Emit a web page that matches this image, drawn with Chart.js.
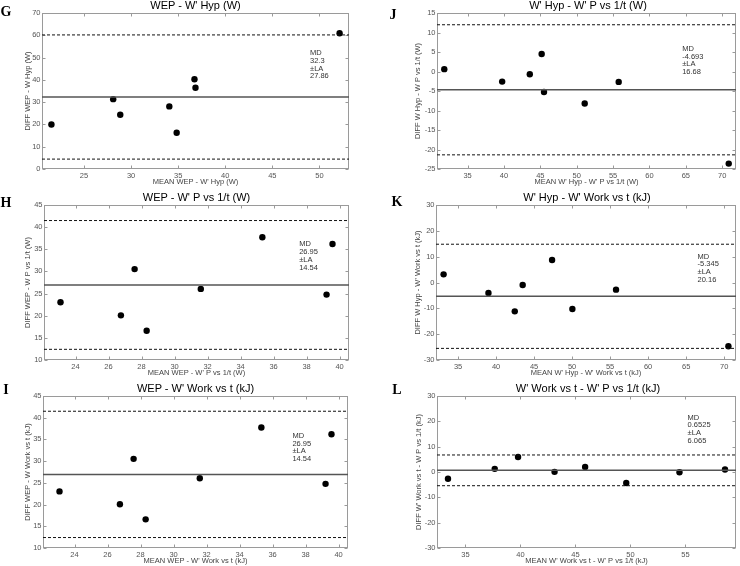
<!DOCTYPE html>
<html>
<head>
<meta charset="utf-8">
<script src="https://cdn.jsdelivr.net/npm/chart.js@4.4.1/dist/chart.umd.min.js"></script>
<style>
  html, body { margin: 0; padding: 0; background: #fff; }
  #page { position: relative; width: 740px; height: 566px; overflow: hidden; }
  canvas { position: absolute; }
  .ttl { position: absolute; font: 11px 'Liberation Sans', Arial, sans-serif; line-height: 13px;
         white-space: nowrap; transform: translateX(-50%); color: #000; }
  .lbl { position: absolute; font: bold 14px 'Liberation Serif', 'Times New Roman', serif; line-height: 16px;
         transform: translateX(-50%); color: #000; }
</style>
</head>
<body>
<div id="page"></div>
<script>
// Bland-Altman data: mean of the two methods vs their difference
const gMean = [21.54, 28.1, 28.85, 34.06, 34.84, 36.73, 36.84, 52.14];
const gDiff = [20.0, 31.35, 24.35, 28.1, 16.25, 40.3, 36.45, 60.9];
const gMD = 32.3, gLA = 27.86;
const gXTicks = [25, 30, 35, 40, 45, 50];
const gYTicks = [0, 10, 20, 30, 40, 50, 60, 70];

const jMean = [31.79, 39.75, 43.55, 45.18, 45.5, 51.1, 55.77, 70.9];
const jDiff = [0.6, -2.59, -0.69, 4.48, -5.26, -8.19, -2.67, -23.62];
const jMD = -4.693, jLA = 16.68;
const jXTicks = [35, 40, 45, 50, 55, 60, 65, 70];
const jYTicks = [-25, -20, -15, -10, -5, 0, 5, 10, 15];

const hMean = [23.09, 26.75, 27.58, 28.31, 31.59, 35.32, 39.21, 39.57];
const hDiff = [23.03, 20.08, 30.53, 16.6, 26.06, 37.73, 24.77, 36.2];
const hMD = 26.95, hLA = 14.54;
const hXTicks = [24, 26, 28, 30, 32, 34, 36, 38, 40];
const hYTicks = [10, 15, 20, 25, 30, 35, 40, 45];

const kMean = [33.1, 39.0, 42.46, 43.5, 47.37, 50.04, 55.78, 70.56];
const kDiff = [3.16, -4.06, -11.16, -0.97, 8.71, -10.26, -2.77, -24.7];
const kMD = -5.345, kLA = 20.16;
const kXTicks = [35, 40, 45, 50, 55, 60, 65, 70];
const kYTicks = [-30, -20, -10, 0, 10, 20, 30];

const iMean = [23.09, 26.75, 27.58, 28.31, 31.59, 35.32, 39.21, 39.57];
const iDiff = [23.03, 20.08, 30.53, 16.6, 26.06, 37.73, 24.77, 36.2];
const iMD = 26.95, iLA = 14.54;
const iXTicks = [24, 26, 28, 30, 32, 34, 36, 38, 40];
const iYTicks = [10, 15, 20, 25, 30, 35, 40, 45];

const lMean = [33.41, 37.66, 39.78, 43.1, 45.88, 49.62, 54.46, 58.6];
const lDiff = [-2.67, 1.24, 5.92, 0.06, 2.02, -4.36, -0.07, 0.98];
const lMD = 0.6525, lLA = 6.065;
const lXTicks = [35, 40, 45, 50, 55];
const lYTicks = [-30, -20, -10, 0, 10, 20, 30];

const FONT = "'Liberation Sans', Arial, sans-serif";
const SMALL = 7.5;

// panel layout: canvas box (x0,y0,w,h), plot rect (l,r,t,b), y-title centre x, x-title centre y,
// title centre y, letter position, note anchor in data units
const panels = [
  { id: 'G', title: "WEP - W' Hyp (W)", xLabel: "MEAN WEP - W' Hyp (W)", yLabel: 'DIFF WEP - W Hyp (W)',
    mean: gMean, diff: gDiff, md: gMD, la: gLA, xTicks: gXTicks, yTicks: gYTicks,
    box: { x0: 0, y0: 0, w: 370, h: 190, l: 42, r: 349, t: 13, b: 169, yt: 28, xt: 181.5 },
    ty: 5.5, letter: [6, 4], note: [49.0, 52] },
  { id: 'J', title: "W' Hyp - W' P vs 1/t (W)", xLabel: "MEAN W' Hyp - W' P vs 1/t (W)", yLabel: 'DIFF W Hyp - W P vs 1/t (W)',
    mean: jMean, diff: jDiff, md: jMD, la: jLA, xTicks: jXTicks, yTicks: jYTicks,
    box: { x0: 370, y0: 0, w: 370, h: 190, l: 437, r: 739, t: 13, b: 169, yt: 418, xt: 181.5 },
    ty: 5.5, letter: [393, 7], note: [64.5, 5.8] },
  { id: 'H', title: "WEP - W' P vs 1/t (W)", xLabel: "MEAN WEP - W' P vs 1/t (W)", yLabel: 'DIFF WEP - W P vs 1/t (W)',
    mean: hMean, diff: hDiff, md: hMD, la: hLA, xTicks: hXTicks, yTicks: hYTicks,
    box: { x0: 0, y0: 190, w: 370, h: 188, l: 44, r: 349, t: 205, b: 360, yt: 28, xt: 373 },
    ty: 197.5, letter: [6, 195], note: [37.55, 36.1] },
  { id: 'K', title: "W' Hyp - W' Work vs t (kJ)", xLabel: "MEAN W' Hyp - W' Work vs t (kJ)", yLabel: "DIFF W Hyp - W' Work vs t (kJ)",
    mean: kMean, diff: kDiff, md: kMD, la: kLA, xTicks: kXTicks, yTicks: kYTicks,
    box: { x0: 370, y0: 190, w: 370, h: 188, l: 436, r: 738, t: 205, b: 360, yt: 418, xt: 373 },
    ty: 197.5, letter: [397, 194], note: [66.5, 10] },
  { id: 'I', title: "WEP - W' Work vs t (kJ)", xLabel: "MEAN WEP - W' Work vs t (kJ)", yLabel: 'DIFF WEP - W Work vs t (kJ)',
    mean: iMean, diff: iDiff, md: iMD, la: iLA, xTicks: iXTicks, yTicks: iYTicks,
    box: { x0: 0, y0: 378, w: 370, h: 188, l: 43, r: 348, t: 396, b: 548, yt: 28, xt: 561 },
    ty: 388, letter: [6, 382], note: [37.2, 35.8] },
  { id: 'L', title: "W' Work vs t - W' P vs 1/t (kJ)", xLabel: "MEAN W' Work vs t - W' P vs 1/t (kJ)", yLabel: "DIFF W' Work vs t - W P vs 1/t (kJ)",
    mean: lMean, diff: lDiff, md: lMD, la: lLA, xTicks: lXTicks, yTicks: lYTicks,
    box: { x0: 370, y0: 378, w: 370, h: 188, l: 437, r: 739, t: 396, b: 548, yt: 419, xt: 561 },
    ty: 388, letter: [397, 382], note: [55.2, 21.5] }
];

// frame with inward ticks on all four sides (MATLAB look) + MD / LA note
const framePlugin = {
  id: 'frame',
  beforeDatasetsDraw(chart) {
    const { ctx, chartArea: a, scales: { x, y } } = chart;
    ctx.save();
    ctx.strokeStyle = '#9a9a9a';
    ctx.lineWidth = 1;
    const L = Math.round(a.left) + 0.5, R = Math.round(a.right) - 0.5;
    const T = Math.round(a.top) + 0.5, B = Math.round(a.bottom) - 0.5;
    ctx.strokeRect(L, T, R - L, B - T);
    ctx.beginPath();
    x.ticks.forEach((t) => {
      const px = Math.round(x.getPixelForValue(t.value)) + 0.5;
      ctx.moveTo(px, B); ctx.lineTo(px, B - 3);
      ctx.moveTo(px, T); ctx.lineTo(px, T + 3);
    });
    y.ticks.forEach((t) => {
      const py = Math.round(y.getPixelForValue(t.value)) + 0.5;
      ctx.moveTo(L, py); ctx.lineTo(L + 3, py);
      ctx.moveTo(R, py); ctx.lineTo(R - 3, py);
    });
    ctx.stroke();
    ctx.restore();
  },
  afterDatasetsDraw(chart, args, opts) {
    if (!opts.note) return;
    const { ctx, scales: { x, y } } = chart;
    const px = x.getPixelForValue(opts.note[0]);
    const py = y.getPixelForValue(opts.note[1]);
    ctx.save();
    ctx.font = SMALL + 'px ' + FONT;
    ctx.fillStyle = '#333';
    ctx.textBaseline = 'middle';
    opts.lines.forEach((s, i) => ctx.fillText(s, px, py + i * 7.7));
    ctx.restore();
  }
};

const page = document.getElementById('page');

function addText(cls, text, left, top) {
  const d = document.createElement('div');
  d.className = cls;
  d.textContent = text;
  d.style.left = left + 'px';
  d.style.top = top + 'px';
  page.appendChild(d);
}

panels.forEach((p) => {
  const bx = p.box;
  const canvas = document.createElement('canvas');
  canvas.width = bx.w;
  canvas.height = bx.h;
  canvas.style.left = bx.x0 + 'px';
  canvas.style.top = bx.y0 + 'px';
  page.appendChild(canvas);

  addText('ttl', p.title, (bx.l + bx.r) / 2, p.ty - 6.5);
  addText('lbl', p.id, p.letter[0], p.letter[1]);

  const half = SMALL * 1.2 / 2;
  const padLeft = bx.yt - bx.x0 - half;
  const yWidth = bx.l - bx.x0 - padLeft;
  const padTop = bx.t - bx.y0;
  const padRight = bx.x0 + bx.w - bx.r;
  const xBottom = bx.xt + half;
  const padBottom = bx.y0 + bx.h - xBottom;
  const xHeight = xBottom - bx.b;

  const xMin = Math.min(...p.mean) - 1;
  const xMax = Math.max(...p.mean) + 1;
  const points = p.mean.map((m, i) => ({ x: m, y: p.diff[i] }));
  const hline = (v) => [{ x: xMin, y: v }, { x: xMax, y: v }];

  new Chart(canvas, {
    type: 'scatter',
    data: {
      datasets: [
        { data: hline(p.md), showLine: true, borderColor: '#555', borderWidth: 1.5, pointRadius: 0 },
        { data: hline(p.md + p.la), showLine: true, borderColor: '#111', borderWidth: 1, borderDash: [3, 2], pointRadius: 0 },
        { data: hline(p.md - p.la), showLine: true, borderColor: '#111', borderWidth: 1, borderDash: [3, 2], pointRadius: 0 },
        { data: points, backgroundColor: '#000', borderWidth: 0, pointRadius: 3.2 }
      ]
    },
    options: {
      responsive: false,
      animation: false,
      layout: { padding: { left: padLeft, top: padTop, right: padRight, bottom: padBottom } },
      plugins: {
        legend: { display: false },
        tooltip: { enabled: false },
        frame: { note: p.note, lines: ['MD', String(p.md), '\u00b1LA', String(p.la)] }
      },
      scales: {
        x: {
          type: 'linear', min: xMin, max: xMax,
          grid: { display: false, drawTicks: false }, border: { display: false },
          afterBuildTicks: (s) => { s.ticks = p.xTicks.map((v) => ({ value: v })); },
          ticks: { autoSkip: false, maxRotation: 0, padding: 2, color: '#555', font: { family: FONT, size: SMALL } },
          title: { display: true, text: p.xLabel, color: '#444', padding: 0, font: { family: FONT, size: SMALL } },
          afterFit: (s) => { s.height = xHeight; }
        },
        y: {
          type: 'linear', min: p.yTicks[0], max: p.yTicks[p.yTicks.length - 1],
          grid: { display: false, drawTicks: false }, border: { display: false },
          afterBuildTicks: (s) => { s.ticks = p.yTicks.map((v) => ({ value: v })); },
          ticks: { autoSkip: false, padding: 1.5, color: '#555', font: { family: FONT, size: SMALL } },
          title: { display: true, text: p.yLabel, color: '#444', padding: 0, font: { family: FONT, size: SMALL } },
          afterFit: (s) => { s.width = yWidth; }
        }
      }
    },
    plugins: [framePlugin]
  });
});
</script>
</body>
</html>
